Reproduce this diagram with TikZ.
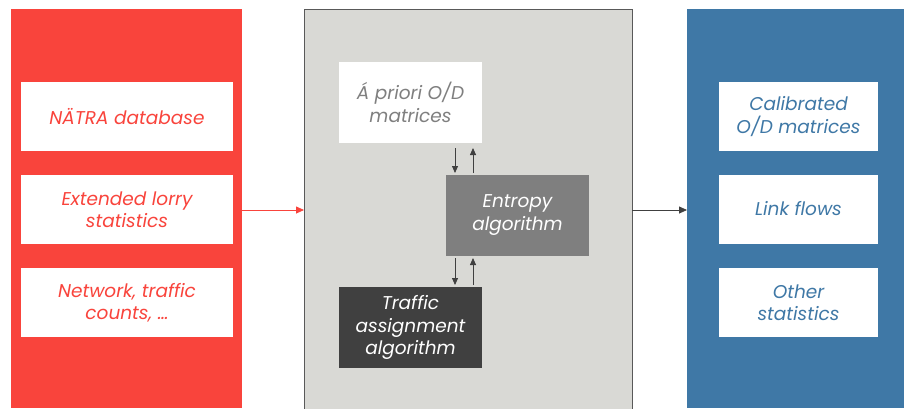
\documentclass[tikz,border=0pt]{standalone}
\usepackage{fontspec}
\setmainfont{Poppins}
\usetikzlibrary{arrows.meta}
\definecolor{inred}{HTML}{F9443C}
\definecolor{outblue}{HTML}{3F78A6}
\definecolor{procgray}{HTML}{D9D9D5}
\definecolor{midgray}{HTML}{7F7F7F}
\definecolor{darkgray}{HTML}{404040}
\definecolor{framegray}{HTML}{595959}
\begin{document}
\begin{tikzpicture}[x=1pt,y=-1pt,
  item/.style={fill=white,minimum width=212pt,minimum height=69pt,inner sep=0pt,
    align=center,font=\fontsize{18.5}{22.5}\selectfont\itshape},
  algo/.style={minimum width=143pt,minimum height=81pt,inner sep=0pt,
    align=center,font=\fontsize{18.5}{22.5}\selectfont\itshape},
  link/.style={-{Triangle[length=8pt,width=7pt]},line width=0.8pt},
  small/.style={-{Triangle[length=7pt,width=6pt]},line width=0.8pt,draw=darkgray}
]
\useasboundingbox (0,0) rectangle (904,408);
\fill[white] (0,0) rectangle (904,408);

% three panels
\fill[inred] (11,9) rectangle (242,408);
\filldraw[fill=procgray,draw=framegray,line width=1pt] (304,9) rectangle (632,410);
\fill[outblue] (687,9) rectangle (904,408);
\coordinate (inR) at (242,210);
\coordinate (procL) at (304,210);
\coordinate (procR) at (632,210);
\coordinate (outL) at (687,210);

% inputs
\node[item,text=inred] (natra) at (127,116.5) {NÄTRA database};
\node[item,text=inred] (lorry) at (127,209.5) {Extended lorry\\statistics};
\node[item,text=inred] (net) at (127,302.5) {Network, traffic\\counts, …};

% process
\node[algo,fill=white,text=midgray] (prior) at (410.5,102.5) {Á priori O/D\\matrices};
\node[algo,fill=midgray,text=white] (entropy) at (517.5,215) {Entropy\\algorithm};
\node[algo,fill=darkgray,text=white] (assign) at (410.5,327.5) {Traffic\\assignment\\algorithm};

% outputs
\node[item,minimum width=159pt,text=outblue] (calib) at (798.5,116.5) {Calibrated\\O/D matrices};
\node[item,minimum width=159pt,text=outblue] (flows) at (798.5,209) {Link flows};
\node[item,minimum width=159pt,text=outblue] (other) at (798.5,302.5) {Other\\statistics};

% connectors
\draw[link,draw=inred,fill=inred] (inR) -- (procL);
\draw[link,draw=darkgray,fill=darkgray] (procR) -- (outL);
\draw[small] (455,148) -- (455,173);
\draw[small] (473,173) -- (473,148);
\draw[small] (455,258) -- (455,285);
\draw[small] (473,285) -- (473,258);
\end{tikzpicture}
\end{document}
